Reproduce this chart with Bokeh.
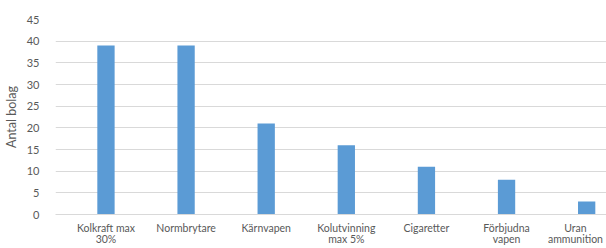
from bokeh.plotting import figure
from bokeh.models import ColumnDataSource, FixedTicker, Range1d
from bokeh.embed import file_html
from bokeh.resources import INLINE

categories = ["Kolkraft max\n30%", "Normbrytare", "Kärnvapen", "Kolutvinning\nmax 5%",
              "Cigaretter", "Förbjudna\nvapen", "Uran\nammunition"]
values = [39, 39, 21, 16, 11, 8, 3]
y_ticks = [0, 5, 10, 15, 20, 25, 30, 35, 40, 45]

xs = list(range(len(categories)))
src = ColumnDataSource(dict(x=xs, top=values))

# label positions: the last label is nudged left (as in the original) so it fits in the window
label_pos = [float(v) for v in xs]
label_pos[-1] = xs[-1] - 0.14

p = figure(frame_width=556, frame_height=195, output_backend="svg", toolbar_location=None,
           x_range=Range1d(-0.63, 6.31), y_range=Range1d(0, 45),
           min_border_left=42, min_border_right=0, min_border_top=19, min_border_bottom=34)
p.outline_line_color = None
p.background_fill_color = "white"
p.border_fill_color = "white"

p.vbar(x="x", top="top", width=0.216, source=src, color="#5b9bd5", line_color=None)

p.xgrid.grid_line_color = None
p.ygrid.grid_line_color = "#d9d9d9"
p.ygrid.ticker = FixedTicker(ticks=y_ticks)

p.yaxis.ticker = FixedTicker(ticks=y_ticks)
p.yaxis.axis_line_color = None
p.yaxis.major_tick_line_color = None
p.yaxis.minor_tick_line_color = None
p.yaxis.major_label_text_color = "#595959"
p.yaxis.major_label_text_font = "Lato"
p.yaxis.major_label_text_font_size = "11px"
p.yaxis.major_label_standoff = 10
p.yaxis.axis_label = "Antal bolag"
p.yaxis.axis_label_text_font = "Lato"
p.yaxis.axis_label_text_font_style = "normal"
p.yaxis.axis_label_text_font_size = "12.5px"
p.yaxis.axis_label_text_color = "#595959"
p.yaxis.axis_label_standoff = 5

p.xaxis.ticker = FixedTicker(ticks=label_pos)
p.xaxis.major_label_overrides = {pos: c for pos, c in zip(label_pos, categories)}
p.xaxis.axis_line_color = "#d9d9d9"
p.xaxis.major_tick_line_color = None
p.xaxis.minor_tick_line_color = None
p.xaxis.major_label_text_color = "#595959"
p.xaxis.major_label_text_font = "Lato"
p.xaxis.major_label_text_font_size = "10.5px"
p.xaxis.major_label_text_line_height = 0.95
p.xaxis.major_label_standoff = 1

open("out.html", "w").write(file_html(p, INLINE))
